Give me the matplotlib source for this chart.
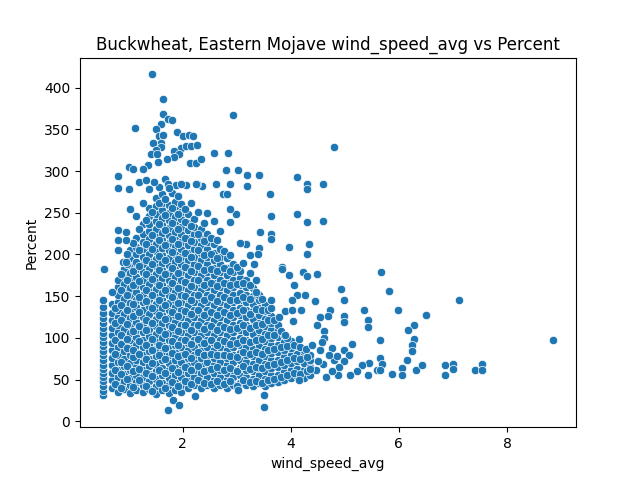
import matplotlib
matplotlib.use('Agg')
import matplotlib.pyplot as plt
import numpy as np
import pandas as pd
import seaborn as sns

# dense core of the cloud, read column by column (wind speed -> percent values)
core_columns = {
    0.52: [31, 36, 42, 48, 53, 58, 63, 68, 74, 79, 84, 90, 95, 101, 106, 112, 118, 124, 130, 137, 146],
    0.70: [40, 49, 58, 67, 76, 85, 94, 103, 112, 121, 130, 141],
    0.80: [35, 44, 53, 62, 71, 80, 89, 98, 107, 116, 125, 134, 143, 152, 161, 170],
    0.92: [39, 48, 57, 66, 75, 84, 93, 102, 111, 120, 129, 138, 147, 156, 165, 174, 183],
    1.03: [34, 43, 52, 61, 70, 79, 88, 97, 106, 115, 124, 133, 142, 151, 160, 169, 178, 187, 196, 205],
    1.14: [38, 47, 56, 65, 74, 83, 92, 101, 110, 119, 128, 137, 146, 155, 164, 173, 182, 191, 200, 209, 220],
    1.26: [35, 44, 53, 62, 71, 80, 89, 98, 107, 116, 125, 134, 143, 152, 161, 170, 179, 188, 197, 206, 215, 224, 236],
    1.38: [39, 48, 57, 66, 75, 84, 93, 102, 111, 120, 129, 138, 147, 156, 165, 174, 183, 192, 201, 210, 219, 228, 237, 246, 256],
    1.50: [33, 42, 51, 60, 69, 78, 87, 96, 105, 114, 123, 132, 141, 150, 159, 168, 177, 186, 195, 204, 213, 222, 231, 240, 249, 258, 268],
    1.62: [37, 46, 55, 64, 73, 82, 91, 100, 109, 118, 127, 136, 145, 154, 163, 172, 181, 190, 199, 208, 217, 226, 235, 244, 253, 262, 272],
    1.74: [34, 43, 52, 61, 70, 79, 88, 97, 106, 115, 124, 133, 142, 151, 160, 169, 178, 187, 196, 205, 214, 223, 232, 241, 250, 259],
    1.86: [38, 47, 56, 65, 74, 83, 92, 101, 110, 119, 128, 137, 146, 155, 164, 173, 182, 191, 200, 209, 218, 227, 236, 245, 254, 263],
    1.98: [35, 44, 53, 62, 71, 80, 89, 98, 107, 116, 125, 134, 143, 152, 161, 170, 179, 188, 197, 206, 215, 224, 233, 242, 251, 260],
    2.10: [40, 49, 58, 67, 76, 85, 94, 103, 112, 121, 130, 139, 148, 157, 166, 175, 184, 193, 202, 211, 220, 229, 238, 248],
    2.22: [44, 53, 62, 71, 80, 89, 98, 107, 116, 125, 134, 143, 152, 161, 170, 179, 188, 197, 206, 215, 224, 233, 242],
    2.34: [40, 49, 58, 67, 76, 85, 94, 103, 112, 121, 130, 139, 148, 157, 166, 175, 184, 193, 202, 211, 220, 231],
    2.46: [44, 53, 62, 71, 80, 89, 98, 107, 116, 125, 134, 143, 152, 161, 170, 179, 188, 197, 206, 215, 224],
    2.58: [40, 49, 58, 67, 76, 85, 94, 103, 112, 121, 130, 139, 148, 157, 166, 175, 184, 193, 202, 213],
    2.70: [44, 53, 62, 71, 80, 89, 98, 107, 116, 125, 134, 143, 152, 161, 170, 179, 188, 197, 206],
    2.82: [40, 49, 58, 67, 76, 85, 94, 103, 112, 121, 130, 139, 148, 157, 166, 175, 184, 196],
    2.94: [44, 53, 62, 71, 80, 89, 98, 107, 116, 125, 134, 143, 152, 161, 170, 179, 188],
    3.06: [46, 55, 64, 73, 82, 91, 100, 109, 118, 127, 136, 145, 154, 163, 172, 180],
    3.18: [44, 53, 62, 71, 80, 89, 98, 107, 116, 125, 134, 143, 152, 161, 170],
    3.30: [42, 51, 60, 69, 78, 87, 96, 105, 114, 123, 132, 141, 150, 160],
    3.42: [46, 55, 64, 73, 82, 91, 100, 109, 118, 127, 136, 145, 152],
    3.52: [42, 51, 60, 69, 78, 87, 96, 105, 114, 123, 132, 140],
    3.63: [46, 55, 64, 73, 82, 91, 100, 109, 118, 126],
    3.76: [47, 56, 65, 74, 83, 92, 101, 110, 116],
    3.88: [50, 59, 68, 77, 86, 95, 104],
    4.00: [52, 61, 70, 79, 88, 96],
    4.12: [54, 63, 72, 81, 90],
    4.24: [52, 61, 70, 79, 86],
    4.36: [56, 65, 74, 80],
}

# extra readings sitting between the core columns (overlapping markers)
mid_columns = {
    0.75: [45, 62, 81, 97, 118, 136],
    0.86: [40, 57, 71, 93, 104, 122, 139, 158, 176],
    0.97: [51, 66, 88, 99, 117, 134, 152, 170, 188, 200],
    1.09: [41, 60, 77, 86, 108, 126, 141, 163, 180, 214],
    1.20: [49, 63, 81, 96, 114, 131, 149, 168, 186, 205, 230],
    1.32: [42, 58, 75, 91, 109, 121, 144, 158, 176, 193, 212, 241],
    1.44: [36, 54, 70, 86, 99, 118, 136, 152, 171, 189, 207, 223, 251],
    1.56: [46, 61, 79, 92, 110, 128, 145, 163, 181, 198, 217, 236, 262, 281],
    1.68: [40, 58, 75, 88, 105, 123, 139, 158, 176, 193, 211, 229, 247, 266],
    1.80: [47, 64, 82, 96, 113, 131, 149, 166, 184, 203, 219, 238, 256, 274],
    1.92: [42, 59, 78, 91, 108, 126, 142, 160, 178, 195, 213, 231, 249, 270],
    2.04: [48, 65, 81, 97, 115, 132, 150, 167, 185, 202, 220, 239, 255],
    2.16: [45, 62, 76, 93, 110, 129, 145, 162, 180, 197, 216, 234, 262],
    2.28: [49, 66, 83, 99, 116, 133, 151, 169, 186, 205, 225, 251],
    2.40: [46, 60, 79, 94, 111, 127, 146, 164, 181, 199, 216, 238],
    2.52: [45, 63, 81, 97, 114, 131, 149, 166, 183, 201, 220],
    2.64: [48, 65, 79, 92, 110, 128, 144, 162, 180, 196, 217],
    2.76: [45, 62, 80, 96, 113, 131, 149, 166, 184, 204],
    2.88: [48, 64, 78, 93, 111, 127, 145, 163, 180, 199],
    3.00: [42, 60, 77, 94, 112, 130, 146, 165, 185],
    3.12: [49, 66, 83, 97, 115, 133, 149, 166, 190],
    3.24: [47, 63, 81, 95, 112, 129, 147, 164, 178],
    3.36: [48, 65, 83, 98, 116, 135, 155, 170],
    3.47: [46, 64, 81, 99, 117, 134, 147],
    3.58: [50, 67, 85, 103, 121, 133],
    3.70: [51, 69, 87, 104, 121],
    3.82: [53, 71, 89, 108],
    3.94: [56, 73, 90, 100],
    4.06: [58, 76, 92],
    4.18: [57, 75, 89],
    4.30: [60, 77],
}

# scattered points outside the dense core
sparse_x = [1.43, 1.64, 2.94, 1.64, 1.73, 1.80, 1.60, 1.12, 1.51, 1.89, 1.56, 1.64, 2.01, 2.12,
            2.19, 1.45, 1.61, 1.98, 2.07, 2.15, 2.27, 1.60, 1.51, 1.42, 1.52, 1.85, 1.93, 1.85,
            2.59, 2.84, 1.71, 1.55, 2.13, 2.24, 2.35, 1.36, 1.26, 1.01, 1.08, 2.81, 3.02, 3.20,
            3.41, 0.80, 0.80, 1.01, 2.61, 2.36, 2.26, 2.87, 3.19, 3.62, 2.74, 2.83, 3.63, 3.43,
            3.63, 3.63, 2.99, 2.87, 2.87, 3.18, 3.06, 3.41, 3.24, 3.39, 3.33, 3.83,
            1.20, 1.33, 1.48, 1.67, 1.73, 1.88, 2.07, 2.25, 1.02, 0.80, 0.80, 0.96, 0.96, 0.80,
            0.89, 0.96, 0.54, 0.70, 1.14, 1.26, 1.38, 1.74, 1.98, 2.46, 2.58, 2.70,
            1.73, 1.82, 1.94, 2.23, 3.02, 3.50, 3.50,
            4.80, 4.12, 4.30, 4.30, 4.60, 4.12, 4.30, 4.60, 3.97, 4.34, 4.30, 3.84, 3.97, 4.23,
            4.30, 4.49, 5.67, 4.06, 4.93, 5.82, 4.12, 4.26, 4.02, 4.45, 4.99, 7.12, 3.89, 4.03,
            4.19, 4.73, 5.36, 5.99, 6.51, 4.54, 4.69, 4.98, 4.98, 4.04, 5.43, 5.43, 4.49, 6.28,
            6.17, 4.62, 4.62, 6.28, 5.65, 8.86, 4.15, 5.13, 6.25, 6.25, 4.76, 4.54, 4.99, 4.29,
            5.07, 5.65, 6.15, 4.80, 4.99, 5.45, 5.69, 5.31, 5.23, 5.59, 5.88, 6.06, 6.06, 6.32,
            6.43, 6.86, 6.86, 7.01, 7.01, 7.40, 7.54, 7.54, 5.43, 5.10, 4.88, 4.66, 5.66, 4.89,
            4.47, 4.60, 4.76, 4.35, 4.15, 4.50, 4.70, 4.85, 4.40, 4.58, 3.78, 3.90, 3.64, 3.64]
sparse_y = [416, 386, 367, 369, 363, 361, 357, 352, 351, 347, 342, 343, 342, 343,
            342, 334, 334, 328, 330, 330, 331, 329, 325, 320, 320, 324, 320, 317,
            322, 322, 314, 311, 310, 310, 314, 307, 303, 305, 303, 301, 301, 295,
            295, 294, 280, 279, 285, 282, 284, 284, 282, 272, 273, 272, 246, 227,
            224, 219, 249, 254, 239, 213, 214, 208, 199, 200, 189, 185,
            287, 289, 287, 291, 285, 283, 283, 285, 254, 229, 217, 227, 217, 205,
            191, 191, 183, 155, 246, 262, 278, 280, 284, 250, 240, 228,
            13, 25, 19, 30, 37, 31, 17,
            329, 293, 285, 278, 284, 248, 239, 240, 209, 212, 201, 183, 175, 179,
            174, 176, 179, 163, 159, 156, 152, 152, 145, 144, 145, 145, 132, 133,
            133, 134, 133, 133, 127, 125, 126, 126, 119, 120, 121, 113, 115, 116,
            109, 108, 100, 99, 98, 97, 99, 93, 91, 84, 88, 86, 86, 87,
            79, 76, 74, 74, 72, 70, 69, 67, 60, 62, 57, 64, 55, 61,
            67, 67, 55, 69, 63, 61, 69, 62, 55, 56, 55, 53, 61, 65,
            61, 69, 60, 63, 49, 72, 80, 78, 92, 95, 125, 104, 146, 136]

x_vals = []
y_vals = []
for columns in (core_columns, mid_columns):
    for cx, ys in columns.items():
        x_vals += [cx] * len(ys)
        y_vals += ys
x_vals += sparse_x
y_vals += sparse_y

df = pd.DataFrame({'wind_speed_avg': x_vals, 'Percent': y_vals})

fig, ax = plt.subplots(figsize=(6.4, 4.8), dpi=100)
sns.scatterplot(data=df, x='wind_speed_avg', y='Percent', ax=ax)
ax.set_title('Buckwheat, Eastern Mojave wind_speed_avg vs Percent')

plt.savefig('out.png')
